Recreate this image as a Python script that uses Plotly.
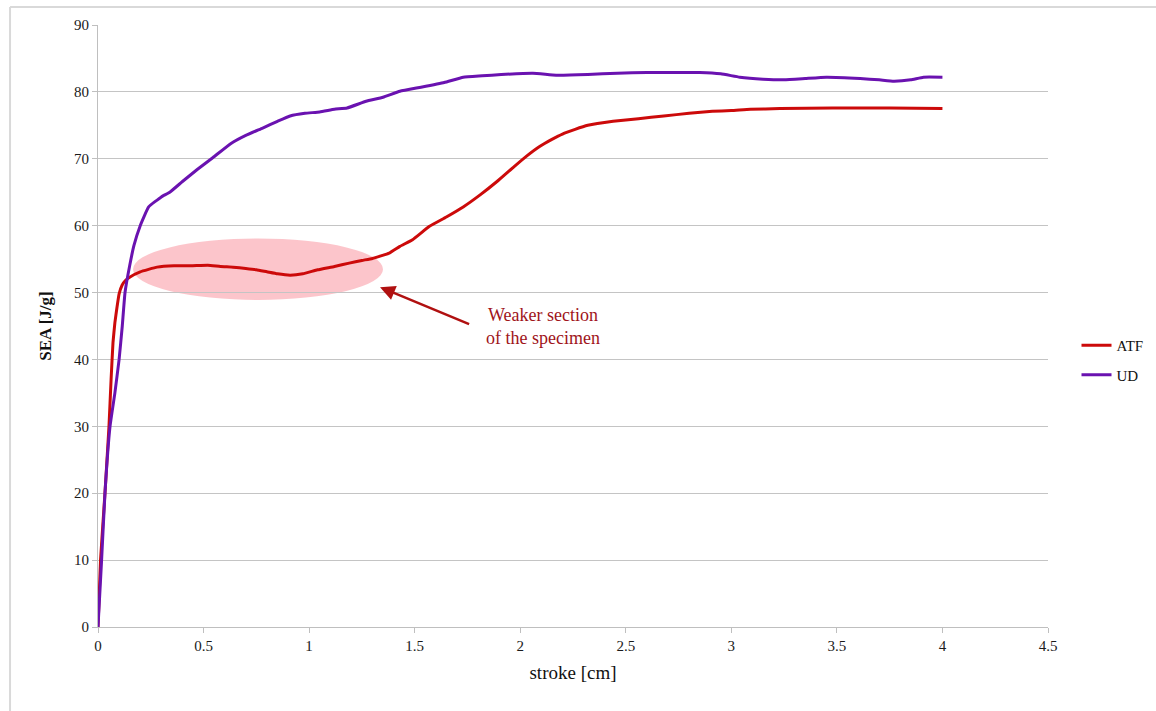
import plotly.graph_objects as go

# ---- data ----
ud_x = [0, 0.017, 0.033, 0.057, 0.08, 0.10, 0.115, 0.128, 0.15, 0.17, 0.20, 0.24, 0.30, 0.34, 0.40, 0.47, 0.545,
        0.63, 0.70, 0.78, 0.85, 0.91, 0.98, 1.05, 1.12, 1.18, 1.27, 1.35, 1.43, 1.53, 1.64, 1.73,
        1.82, 1.91, 2.06, 2.17, 2.32, 2.46, 2.60, 2.70, 2.85, 2.95, 3.04, 3.15, 3.25, 3.35,
        3.45, 3.61, 3.70, 3.77, 3.85, 3.91, 4.0]
ud_y = [0, 10, 20, 30, 35, 40, 45, 50, 54, 57, 60, 62.8, 64.3, 65.0, 66.6, 68.4, 70.2,
        72.3, 73.5, 74.6, 75.6, 76.4, 76.8, 77.0, 77.4, 77.6, 78.6, 79.2, 80.1, 80.7, 81.4, 82.2,
        82.4, 82.6, 82.8, 82.5, 82.6, 82.8, 82.9, 82.9, 82.9, 82.7, 82.2, 81.9, 81.8, 82.0,
        82.2, 82.0, 81.8, 81.6, 81.8, 82.2, 82.2]

atf_x = [0, 0.012, 0.033, 0.052, 0.062, 0.071, 0.08, 0.09, 0.10, 0.114, 0.13, 0.15, 0.20, 0.28,
         0.36, 0.44, 0.52, 0.58, 0.64, 0.70, 0.75, 0.80, 0.85, 0.91, 0.97, 1.04, 1.12, 1.19,
         1.25, 1.30, 1.38, 1.43, 1.49, 1.57, 1.65, 1.73, 1.81, 1.89, 1.97, 2.03, 2.09, 2.15,
         2.20, 2.26, 2.32, 2.44, 2.56, 2.68, 2.80, 2.91, 3.00, 3.09, 3.23, 3.48, 3.75, 4.0]
atf_y = [0, 10, 20, 30, 37, 42.5, 45.5, 47.8, 49.8, 51.1, 51.8, 52.3, 53.1, 53.8,
         54.0, 54.0, 54.1, 53.9, 53.8, 53.6, 53.4, 53.1, 52.8, 52.6, 52.8, 53.4, 53.9, 54.4,
         54.8, 55.1, 55.9, 56.9, 57.9, 59.9, 61.3, 62.8, 64.6, 66.6, 68.8, 70.4, 71.8, 72.9,
         73.7, 74.4, 75.0, 75.6, 76.0, 76.4, 76.8, 77.1, 77.2, 77.4, 77.5, 77.6, 77.6, 77.5]

x_ticks = [0, 0.5, 1, 1.5, 2, 2.5, 3, 3.5, 4, 4.5]
y_ticks = [0, 10, 20, 30, 40, 50, 60, 70, 80, 90]

series_names = ["ATF", "UD"]
annotation_text = "Weaker section<br>of the specimen"

fig = go.Figure()
fig.add_trace(go.Scatter(x=atf_x, y=atf_y, mode="lines", name=series_names[0], legendgroup="a",
                         line=dict(color="#CC0A0A", width=3, shape="spline", smoothing=0.35)))
fig.add_trace(go.Scatter(x=ud_x, y=ud_y, mode="lines", name=series_names[1], legendgroup="b",
                         line=dict(color="#6A12B0", width=3, shape="spline", smoothing=0.35)))

# highlight ellipse
fig.add_shape(type="circle", xref="x", yref="y", x0=0.166, x1=1.35, y0=48.9, y1=58.1,
              fillcolor="rgba(250,150,160,0.55)", line=dict(width=0), layer="below")

# arrow + text
fig.add_annotation(x=1.336, y=50.8, ax=1.765, ay=45.2, xref="x", yref="y", axref="x", ayref="y",
                   text="", showarrow=True, arrowhead=2, arrowsize=1.2, arrowwidth=2.5,
                   arrowcolor="#B01010")
fig.add_annotation(x=2.11, y=45.0, xref="x", yref="y", text=annotation_text, showarrow=False,
                   font=dict(family="Liberation Serif, serif", size=18, color="#A0141A"),
                   align="center")

# outer frame lines
fig.add_shape(type="line", xref="paper", yref="paper", x0=-0.0926, x1=1.2, y0=1.03, y1=1.03,
              line=dict(color="#D9D9D9", width=2))
fig.add_shape(type="line", xref="paper", yref="paper", x0=-0.0926, x1=-0.0926, y0=1.03, y1=-0.2,
              line=dict(color="#D9D9D9", width=2))

tickfont = dict(family="Liberation Serif, serif", size=15, color="#1A1A1A")
fig.update_layout(
    width=1156, height=711,
    margin=dict(l=98, r=108, t=25, b=84, autoexpand=False),
    paper_bgcolor="white", plot_bgcolor="white",
    showlegend=True,
    legend=dict(x=1.03, y=0.495, xanchor="left", yanchor="top",
                font=dict(family="Liberation Serif, serif", size=15, color="#111111"),
                bgcolor="rgba(0,0,0,0)", tracegroupgap=7, itemwidth=30),
    xaxis=dict(range=[0, 4.5], tickvals=x_ticks, ticktext=[str(v) for v in x_ticks],
               showgrid=False, zeroline=False, showline=True, linecolor="#BFBFBF", linewidth=1,
               ticks="outside", ticklen=5, tickcolor="#BFBFBF", tickfont=tickfont,
               title=dict(text="stroke [cm]", standoff=12,
                          font=dict(family="Liberation Serif, serif", size=19, color="#111111"))),
    yaxis=dict(range=[0, 90], tickvals=y_ticks, showgrid=True, gridcolor="#C4C4C4", gridwidth=1,
               zeroline=False, showline=True, linecolor="#BFBFBF", linewidth=1,
               ticks="outside", ticklen=5, tickcolor="#BFBFBF", tickfont=tickfont,
               title=dict(text="<b>SEA [J/g]</b>", standoff=18,
                          font=dict(family="Liberation Serif, serif", size=17, color="#111111"))),
)

fig.write_html("out.html")
